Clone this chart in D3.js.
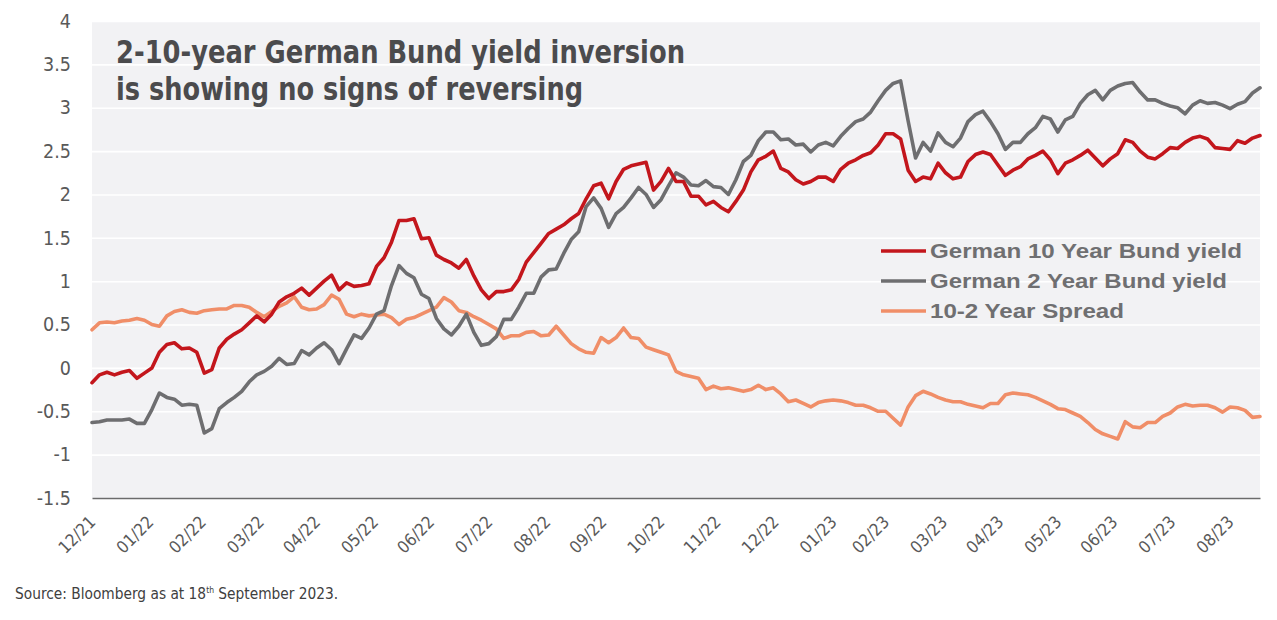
<!DOCTYPE html>
<html>
<head>
<meta charset="utf-8">
<script src="https://cdn.jsdelivr.net/npm/d3@7"></script>
<style>
  html, body { margin: 0; padding: 0; background: #ffffff; }
  svg { display: block; }
</style>
</head>
<body>
<svg id="chart" width="1277" height="620"></svg>
<script>
// ---------------- DATA ----------------
const startDate = "2021-12-31";   // first observation
const stepDays = 4;               // observations every 4 calendar days
const xTickLabels = ["12/21","01/22","02/22","03/22","04/22","05/22","06/22","07/22","08/22","09/22",
  "10/22","11/22","12/22","01/23","02/23","03/23","04/23","05/23","06/23","07/23","08/23"];
const yTicks = [-1.5, -1, -0.5, 0, 0.5, 1, 1.5, 2, 2.5, 3, 3.5, 4];
const seriesNames = ["German 10 Year Bund yield", "German 2 Year Bund yield", "10-2 Year Spread"];

const bund10 = [-0.17,-0.08,-0.05,-0.08,-0.05,-0.03,-0.12,-0.06,0.00,0.18,
  0.27,0.29,0.22,0.23,0.18,-0.06,-0.02,0.23,0.33,0.39,
  0.44,0.52,0.60,0.53,0.62,0.76,0.82,0.86,0.92,0.84,
  0.92,1.00,1.07,0.90,0.98,0.94,0.95,0.97,1.17,1.27,
  1.45,1.70,1.70,1.72,1.49,1.50,1.30,1.25,1.21,1.15,
  1.25,1.06,0.90,0.80,0.88,0.88,0.90,1.02,1.22,1.33,
  1.44,1.55,1.60,1.65,1.72,1.78,1.95,2.10,2.13,1.95,
  2.15,2.29,2.33,2.35,2.37,2.05,2.15,2.30,2.15,2.15,
  1.98,1.98,1.88,1.92,1.85,1.80,1.92,2.05,2.26,2.40,
  2.44,2.50,2.30,2.26,2.17,2.12,2.15,2.20,2.20,2.15,
  2.29,2.36,2.40,2.45,2.48,2.57,2.70,2.70,2.64,2.28,
  2.15,2.20,2.18,2.36,2.25,2.18,2.20,2.38,2.46,2.49,
  2.46,2.34,2.22,2.28,2.32,2.41,2.45,2.50,2.40,2.24,
  2.36,2.40,2.45,2.51,2.42,2.33,2.41,2.47,2.63,2.60,
  2.50,2.43,2.41,2.47,2.54,2.53,2.60,2.65,2.67,2.64,
  2.54,2.53,2.52,2.62,2.59,2.65,2.68];

const bund2 = [-0.63,-0.62,-0.60,-0.60,-0.60,-0.59,-0.64,-0.64,-0.48,-0.29,
  -0.34,-0.36,-0.43,-0.42,-0.43,-0.75,-0.70,-0.47,-0.40,-0.34,
  -0.27,-0.16,-0.08,-0.04,0.02,0.11,0.04,0.05,0.20,0.15,
  0.23,0.29,0.21,0.05,0.22,0.38,0.34,0.46,0.62,0.66,
  0.95,1.18,1.09,1.04,0.85,0.80,0.57,0.45,0.38,0.48,
  0.62,0.41,0.26,0.28,0.36,0.56,0.56,0.70,0.86,0.86,
  1.05,1.13,1.14,1.32,1.48,1.57,1.86,1.96,1.84,1.62,
  1.78,1.85,1.96,2.08,2.00,1.85,1.94,2.10,2.25,2.20,
  2.11,2.10,2.16,2.09,2.08,2.00,2.17,2.38,2.45,2.62,
  2.72,2.72,2.63,2.64,2.57,2.58,2.49,2.57,2.60,2.56,
  2.67,2.76,2.84,2.87,2.95,3.08,3.20,3.28,3.31,2.85,
  2.42,2.60,2.50,2.71,2.60,2.55,2.65,2.84,2.92,2.96,
  2.84,2.70,2.52,2.60,2.60,2.70,2.77,2.90,2.87,2.72,
  2.86,2.90,3.05,3.15,3.20,3.09,3.20,3.25,3.28,3.29,
  3.18,3.09,3.09,3.05,3.02,3.00,2.93,3.03,3.08,3.05,
  3.06,3.03,2.99,3.04,3.07,3.17,3.23];

const spread = [0.44,0.52,0.53,0.52,0.54,0.55,0.57,0.55,0.50,0.48,
  0.60,0.65,0.67,0.64,0.63,0.66,0.67,0.68,0.68,0.72,
  0.72,0.70,0.64,0.59,0.65,0.71,0.75,0.82,0.70,0.67,
  0.68,0.73,0.84,0.79,0.62,0.59,0.62,0.60,0.61,0.62,
  0.58,0.50,0.56,0.58,0.62,0.66,0.70,0.81,0.76,0.66,
  0.64,0.59,0.55,0.50,0.45,0.34,0.37,0.37,0.41,0.42,
  0.37,0.38,0.48,0.38,0.28,0.22,0.18,0.17,0.35,0.29,
  0.35,0.46,0.35,0.34,0.24,0.21,0.18,0.15,-0.04,-0.08,
  -0.10,-0.12,-0.25,-0.21,-0.24,-0.23,-0.25,-0.27,-0.25,-0.20,
  -0.25,-0.23,-0.30,-0.39,-0.37,-0.41,-0.45,-0.40,-0.38,-0.37,
  -0.38,-0.40,-0.43,-0.43,-0.46,-0.50,-0.50,-0.58,-0.66,-0.45,
  -0.32,-0.27,-0.30,-0.34,-0.37,-0.39,-0.39,-0.42,-0.44,-0.46,
  -0.41,-0.41,-0.31,-0.29,-0.30,-0.31,-0.34,-0.38,-0.42,-0.47,
  -0.48,-0.52,-0.56,-0.63,-0.71,-0.76,-0.79,-0.82,-0.62,-0.68,
  -0.69,-0.63,-0.63,-0.56,-0.52,-0.45,-0.42,-0.44,-0.43,-0.43,
  -0.46,-0.51,-0.45,-0.46,-0.49,-0.57,-0.56];

// ---------------- CHART ----------------
const svg = d3.select("#chart");
const W = 1277, H = 620;
const m = { left: 92, right: 17, top: 21, bottom: 122 };
const plotW = W - m.left - m.right, plotH = H - m.top - m.bottom;

const narrow = "'Liberation Sans Narrow','Arial Narrow','DejaVu Sans Condensed',sans-serif";
const wide = "'Liberation Sans',Arial,'DejaVu Sans',sans-serif";

const parse = d3.timeParse("%Y-%m-%d");
const t0 = parse(startDate);
const dates = bund10.map((_, i) => d3.timeDay.offset(t0, i * stepDays));

const x = d3.scaleTime().domain([t0, dates[dates.length - 1]]).range([m.left, m.left + plotW]);
const y = d3.scaleLinear().domain([d3.min(yTicks), d3.max(yTicks)]).range([m.top + plotH, m.top]);

// plot background
svg.append("rect").attr("x", m.left).attr("y", m.top).attr("width", plotW).attr("height", plotH)
  .attr("fill", "#f2f2f4");

// gridlines + y labels
const yAxis = d3.axisLeft(y).tickValues(yTicks).tickSize(-plotW).tickPadding(21)
  .tickFormat(d => String(d));
const gy = svg.append("g").attr("transform", `translate(${m.left},0)`).call(yAxis);
gy.select(".domain").remove();
gy.selectAll(".tick line").attr("stroke", "#ffffff").attr("stroke-width", 1.6);
gy.selectAll(".tick text").attr("font-family", narrow).attr("font-size", 19.5)
  .attr("fill", "#595959");

// x axis with month-end ticks derived from labels
const tickDates = xTickLabels.map(s => {
  const [mm, yy] = s.split("/").map(Number);
  return new Date(2000 + yy, mm, 0);
});
const xAxis = d3.axisBottom(x).tickValues(tickDates).tickSize(0)
  .tickFormat((d, i) => xTickLabels[i]);
const gx = svg.append("g").attr("transform", `translate(0,${m.top + plotH})`).call(xAxis);
gx.select(".domain").attr("stroke", "#6b6b6b").attr("stroke-width", 1.6);
gx.selectAll(".tick text")
  .attr("font-family", narrow).attr("font-size", 17).attr("fill", "#595959")
  .attr("text-anchor", "end").attr("dy", "0.35em").attr("y", 0)
  .attr("transform", "translate(0,21) rotate(-45)");

// lines
const line = d3.line().x((d, i) => x(dates[i])).y(d => y(d)).curve(d3.curveLinear);
const colors = ["#c3161c", "#6e6e70", "#f08e68"];
const series = [bund10, bund2, spread];
// draw spread first (behind), then 2Y, then 10Y
[2, 1, 0].forEach(j => {
  svg.append("path").datum(series[j]).attr("d", line)
    .attr("fill", "none").attr("stroke", colors[j]).attr("stroke-width", 3.6)
    .attr("stroke-linejoin", "round").attr("stroke-linecap", "round");
});

// title
const title = svg.append("g").attr("font-family", narrow).attr("font-weight", "bold")
  .attr("fill", "#4b4b4d").attr("font-size", 32);
title.append("text").attr("x", 116).attr("y", 63)
  .text("2-10-year German Bund yield inversion")
  .attr("textLength", 569).attr("lengthAdjust", "spacingAndGlyphs");
title.append("text").attr("x", 116).attr("y", 100)
  .text("is showing no signs of reversing")
  .attr("textLength", 467).attr("lengthAdjust", "spacingAndGlyphs");

// legend
const legW = [312, 297, 194];
const leg = svg.append("g");
seriesNames.forEach((name, i) => {
  const yy = 251 + i * 30;
  leg.append("line").attr("x1", 881).attr("x2", 926).attr("y1", yy).attr("y2", yy)
    .attr("stroke", colors[i]).attr("stroke-width", 3.6);
  leg.append("text").attr("x", 930).attr("y", yy + 7).text(name)
    .attr("font-family", wide).attr("font-weight", "bold").attr("font-size", 19.5)
    .attr("fill", "#6f6f71")
    .attr("textLength", legW[i]).attr("lengthAdjust", "spacingAndGlyphs");
});

// source
const src = svg.append("text").attr("x", 15).attr("y", 599)
  .attr("font-family", narrow).attr("font-size", 15.3).attr("fill", "#404040");
src.append("tspan").text("Source: Bloomberg as at 18");
src.append("tspan").text("th").attr("font-size", 8.5).attr("dy", -6);
src.append("tspan").text(" September 2023.").attr("dy", 6);
</script>
</body>
</html>
